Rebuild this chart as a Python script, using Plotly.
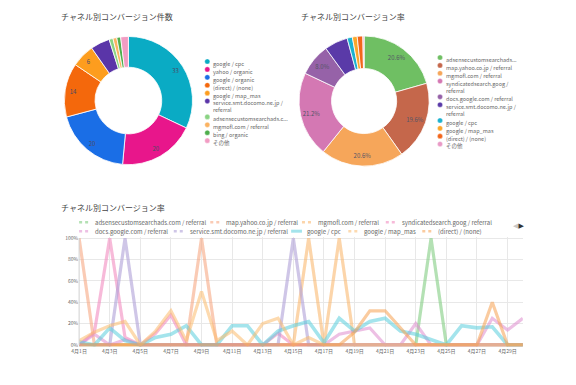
import plotly.graph_objects as go

W, H = 576, 385
OFF = 8  # page body margin of the browser


def px(x):
    return (x - OFF) / W


def py(y):
    return 1 - (y - OFF) / H


# ---------------- data ----------------
count_labels = ["google / cpc", "yahoo / organic", "google / organic", "(direct) / (none)",
                "google / map_mas", "service.smt.docomo.ne.jp / referral",
                "adsensecustomsearchads.com / referral", "mgmofl.com / referral",
                "bing / organic", "その他"]
count_values = [33, 20, 20, 14, 6, 5, 1, 1, 1, 2]
count_colors = ["#0aabc4", "#e8168b", "#1a6ee6", "#f4680c", "#fd9d1e", "#5a35a8",
                "#8ad383", "#fbb362", "#4fae4c", "#f29cc3"]
count_legend_text = ["google / cpc", "yahoo / organic", "google / organic", "(direct) / (none)",
                     "google / map_mas", "service.smt.docomo.ne.jp /<br>referral",
                     "adsensecustomsearchads.c...", "mgmofl.com / referral",
                     "bing / organic", "その他"]

rate_labels = ["adsensecustomsearchads.com / referral", "map.yahoo.co.jp / referral",
               "mgmofl.com / referral", "syndicatedsearch.goog / referral",
               "docs.google.com / referral", "service.smt.docomo.ne.jp / referral",
               "google / cpc", "google / map_mas", "(direct) / (none)", "その他"]
rate_values = [20.6, 19.6, 20.6, 21.2, 8.0, 5.8, 1.3, 1.2, 1.4, 0.3]
rate_colors = ["#6fbf63", "#c5674b", "#f6a65a", "#d478b3", "#9662a8", "#5a3aa8",
               "#1cb2cf", "#fca62a", "#f2661b", "#e99ac6"]
rate_legend_text = ["adsensecustomsearchads...", "map.yahoo.co.jp / referral",
                    "mgmofl.com / referral", "syndicatedsearch.goog /<br>referral",
                    "docs.google.com / referral", "service.smt.docomo.ne.jp /<br>referral",
                    "google / cpc", "google / map_mas", "(direct) / (none)", "その他"]

dates = [f"4月{d}日" for d in range(1, 31)]
date_ticks = dates[::2]

series_names = ["adsensecustomsearchads.com / referral", "map.yahoo.co.jp / referral",
                "mgmofl.com / referral", "syndicatedsearch.goog / referral",
                "docs.google.com / referral", "service.smt.docomo.ne.jp / referral",
                "google / cpc", "google / map_mas", "(direct) / (none)"]
series_colors = ["rgba(130,205,130,0.6)", "rgba(246,160,120,0.55)", "rgba(250,178,100,0.55)",
                 "rgba(240,130,185,0.55)", "rgba(222,140,205,0.55)", "rgba(175,160,215,0.6)",
                 "rgba(90,205,220,0.55)", "rgba(252,188,110,0.55)", "rgba(246,160,80,0.55)"]
s_adsense = [0, 0, 0, 0, 0, 0, 0, 0, 0, 0, 0, 0, 0, 0, 0, 0, 0, 0, 0, 0, 0, 0, 0, 100, 0, 0, 0, 0, 0, 0]
s_mapyahoo = [100, 0, 0, 0, 0, 0, 0, 0, 100, 0, 0, 0, 0, 0, 0, 0, 0, 0, 0, 0, 0, 0, 0, 0, 0, 0, 0, 0, 0, 0]
s_mgmofl = [0, 0, 0, 0, 0, 0, 0, 0, 0, 0, 0, 0, 0, 0, 0, 100, 0, 100, 0, 0, 0, 0, 0, 0, 0, 0, 0, 0, 0, 0]
s_synd = [0, 12, 100, 7, 0, 11, 28, 0, 0, 0, 0, 0, 0, 11, 0, 0, 0, 0, 0, 0, 0, 0, 0, 0, 0, 0, 0, 0, 0, 0]
s_docs = [0, 10, 0, 5, 0, 0, 0, 0, 0, 0, 0, 0, 0, 0, 0, 0, 0, 10, 13, 16, 0, 0, 20, 0, 0, 0, 0, 25, 14, 25]
s_docomo = [0, 0, 0, 100, 0, 0, 0, 0, 0, 0, 0, 0, 0, 0, 100, 0, 0, 0, 0, 0, 0, 0, 0, 0, 0, 0, 0, 0, 0, 0]
s_cpc = [3, 0, 16, 4, 0, 7, 10, 18, 0, 0, 18, 18, 0, 13, 18, 22, 2, 25, 13, 22, 25, 13, 10, 5, 0, 18, 16, 17, 0, 0]
s_mapmas = [4, 12, 18, 22, 0, 13, 32, 4, 50, 4, 13, 0, 20, 25, 0, 7, 0, 0, 0, 0, 0, 0, 0, 0, 0, 0, 0, 0, 0, 0]
s_direct = [0, 0, 0, 0, 0, 0, 0, 0, 0, 0, 0, 0, 0, 0, 0, 0, 0, 0, 12, 32, 32, 16, 0, 0, 0, 0, 0, 40, 0, 0]
series_values = [s_adsense, s_mapyahoo, s_mgmofl, s_synd, s_docs, s_docomo, s_cpc, s_mapmas, s_direct]

y_ticks = [0, 20, 40, 60, 80, 100]

# ---------------- styling ----------------
FONT = "Noto Sans CJK JP, Noto Sans, sans-serif"
TEXT_GRAY = "#666666"
TITLE_GRAY = "#444444"

fig = go.Figure()


def pie_domain(cx, cy, r):
    return dict(x=[px(cx - r), px(cx + r)], y=[py(cy + r), py(cy - r)])


# --- donut 1: counts ---
d1 = pie_domain(122, 98.5, 65)
tot1 = sum(count_values)
count_text = [str(v) if v / tot1 >= 0.055 else "" for v in count_values]
fig.add_trace(go.Pie(labels=count_labels, values=count_values, hole=0.52, sort=False,
                     direction="clockwise", rotation=0, domain=d1, showlegend=False,
                     marker=dict(colors=count_colors, line=dict(color="white", width=0.8)),
                     textinfo="none", hoverinfo="label+value"))
fig.add_trace(go.Pie(labels=count_labels, values=count_values, hole=0.74, sort=False,
                     direction="clockwise", rotation=0, domain=d1, showlegend=False,
                     marker=dict(colors=["rgba(0,0,0,0)"] * len(count_values)),
                     text=count_text, textinfo="text", textposition="inside",
                     insidetextorientation="horizontal",
                     textfont=dict(size=6, color="#4a4a66", family=FONT), hoverinfo="skip"))

# --- donut 2: rates ---
d2 = pie_domain(361, 99, 66)
tot2 = sum(rate_values)
rate_text = [f"{v / tot2 * 100:.1f}%" if v / tot2 >= 0.06 else "" for v in rate_values]
fig.add_trace(go.Pie(labels=rate_labels, values=rate_values, hole=0.5, sort=False,
                     direction="clockwise", rotation=0, domain=d2, showlegend=False,
                     marker=dict(colors=rate_colors, line=dict(color="white", width=0.8)),
                     textinfo="none", hoverinfo="label+percent"))
fig.add_trace(go.Pie(labels=rate_labels, values=rate_values, hole=0.66, sort=False,
                     direction="clockwise", rotation=0, domain=d2, showlegend=False,
                     marker=dict(colors=["rgba(0,0,0,0)"] * len(rate_values)),
                     text=rate_text, textinfo="text", textposition="inside",
                     insidetextorientation="horizontal",
                     textfont=dict(size=6, color="#555566", family=FONT), hoverinfo="skip"))

# --- line chart ---
for name, vals, col in zip(series_names, series_values, series_colors):
    fig.add_trace(go.Scatter(x=dates, y=vals, name=name, mode="lines",
                             line=dict(color=col, width=3.2 if name != "google / cpc" else 3.6),
                             showlegend=False, xaxis="x", yaxis="y"))

fig.update_layout(
    width=W, height=H, margin=dict(l=0, r=0, t=0, b=0),
    paper_bgcolor="white", plot_bgcolor="white",
    font=dict(family=FONT, color=TEXT_GRAY, size=6),
    showlegend=False,
    xaxis=dict(domain=[px(72), px(522)], type="category", range=[0, 29],
               tickmode="array", tickvals=date_ticks, ticktext=date_ticks,
               showgrid=True, gridcolor="#e8e8e8", gridwidth=1,
               showline=False, zeroline=False, ticks="", tickfont=dict(size=5, color=TEXT_GRAY)),
    yaxis=dict(domain=[py(347.1), py(235.9)], range=[-1.5, 101.5],
               tickmode="array", tickvals=y_ticks, ticktext=[f"{v}%" for v in y_ticks],
               showgrid=True, gridcolor="#e8e8e8", gridwidth=1, zeroline=False,
               showline=False, ticks="", tickfont=dict(size=5, color=TEXT_GRAY)),
)

shapes = []
annotations = []

# left axis line of line chart
shapes.append(dict(type="line", xref="paper", yref="paper", x0=px(72), x1=px(72),
                   y0=py(345.5), y1=py(237.5), line=dict(color="#d0d0d0", width=1)))

# titles
for tx, ty, t in [(52, 14, "チャネル別コンバージョン件数"), (295, 14, "チャネル別コンバージョン率"),
                  (52, 207, "チャネル別コンバージョン率")]:
    annotations.append(dict(x=px(tx), y=py(ty), xref="paper", yref="paper", text=t,
                            showarrow=False, xanchor="left", yanchor="middle",
                            font=dict(size=8, color=TITLE_GRAY, family=FONT)))


# pie legends
def pie_legend(texts, colors, mx, tx, y0, step):
    y = y0
    for t, c in zip(texts, colors):
        nlines = t.count("<br>") + 1
        shapes.append(dict(type="circle", xref="paper", yref="paper",
                           x0=px(mx - 2.6), x1=px(mx + 2.6), y0=py(y + 2.6), y1=py(y - 2.6),
                           fillcolor=c, line=dict(color="rgba(255,255,255,0.6)", width=0.6)))
        annotations.append(dict(x=px(tx), y=py(y - 3.6), xref="paper", yref="paper", text=t,
                                showarrow=False, xanchor="left", yanchor="top", align="left",
                                font=dict(size=5.5, color=TEXT_GRAY, family=FONT)))
        y += step * nlines


pie_legend(count_legend_text, count_colors, 202, 206, 59, 8.0)
pie_legend(rate_legend_text, rate_colors, 438, 442, 55, 7.95)

# line chart legend (row y, symbol x0, symbol x1, text x)
line_legend_pos = [(221.5, 72, 83, 86), (221.5, 205, 216, 219), (221.5, 298, 309, 312),
                   (221.5, 383, 394, 397),
                   (230.5, 72, 83, 86), (230.5, 168, 179, 182), (230.5, 287, 298, 301),
                   (230.5, 345, 356, 359), (230.5, 420, 431, 434)]
for (ry, sx0, sx1, tx), name, col in zip(line_legend_pos, series_names, series_colors):
    solid = name == "google / cpc"
    shapes.append(dict(type="line", xref="paper", yref="paper", x0=px(sx0), x1=px(sx1),
                       y0=py(ry), y1=py(ry),
                       line=dict(color=col, width=3 if solid else 2.5, dash="solid" if solid else "dot")))
    annotations.append(dict(x=px(tx), y=py(ry), xref="paper", yref="paper", text=name,
                            showarrow=False, xanchor="left", yanchor="middle",
                            font=dict(size=6, color=TEXT_GRAY, family=FONT)))

# legend pager
annotations.append(dict(x=px(518), y=py(225), xref="paper", yref="paper",
                        text="<span style='color:#c8c8c8'>◀</span><span style='color:#333'>▶</span>",
                        showarrow=False, xanchor="center", yanchor="middle",
                        font=dict(size=7, family="DejaVu Sans")))

fig.update_layout(shapes=shapes, annotations=annotations)
fig.write_html("out.html")
